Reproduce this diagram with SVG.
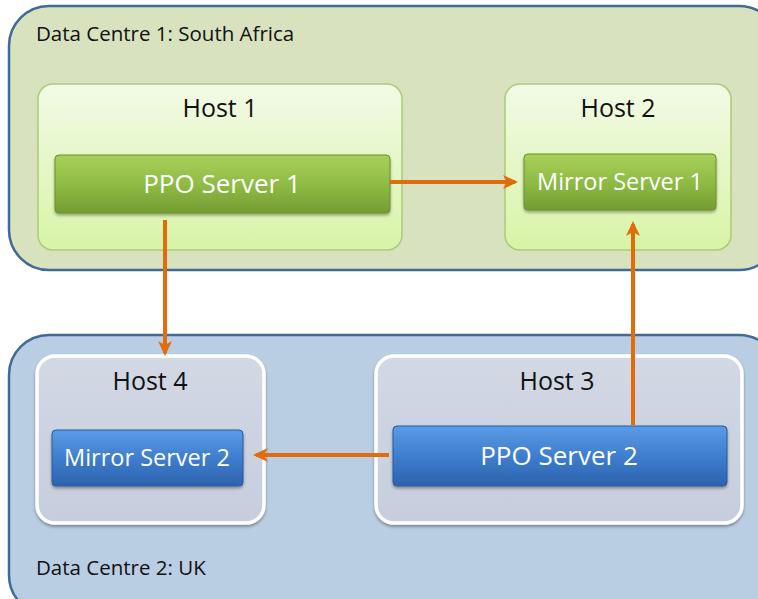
<svg xmlns="http://www.w3.org/2000/svg" width="758" height="599" viewBox="0 0 758 599">
<defs>
<linearGradient id="hostG" x1="0" y1="0" x2="0" y2="1"><stop offset="0" stop-color="#F2FAE6"/><stop offset="1" stop-color="#D8F4A6"/></linearGradient>
<linearGradient id="srvG" x1="0" y1="0" x2="0" y2="1"><stop offset="0" stop-color="#A8D05A"/><stop offset="0.5" stop-color="#8FBC45"/><stop offset="1" stop-color="#749C32"/></linearGradient>
<linearGradient id="srvB" x1="0" y1="0" x2="0" y2="1"><stop offset="0" stop-color="#5B9BE6"/><stop offset="0.5" stop-color="#3E7ECE"/><stop offset="1" stop-color="#2D62AC"/></linearGradient>
<linearGradient id="hostB" x1="0" y1="0" x2="0" y2="1"><stop offset="0" stop-color="#D2D8E4"/><stop offset="1" stop-color="#C6CDDC"/></linearGradient>
<filter id="sh" x="-5%" y="-10%" width="110%" height="130%"><feDropShadow dx="0" dy="2" stdDeviation="1.5" flood-color="#000" flood-opacity="0.35"/></filter>
<marker id="ah" markerWidth="16" markerHeight="16" refX="12" refY="8" orient="auto" markerUnits="userSpaceOnUse" viewBox="0 0 16 16"><path d="M0,1 L15,8 L0,15 L4,8 Z" fill="#E36C0A"/></marker>
</defs>
<style>
.dc1{fill:#D8E2BE;stroke:#3F6A9A;stroke-width:2.5}
.dc2{fill:#B9CDE3;stroke:#3F6A9A;stroke-width:2.5}
.h1{fill:url(#hostG);stroke:#A9CC79;stroke-width:1.5}
.h2{fill:url(#hostB);stroke:#FFFFFF;stroke-width:3.5;filter:url(#sh)}
.sg{fill:url(#srvG);stroke:#6A8F2C;stroke-width:1;filter:url(#sh)}
.sb{fill:url(#srvB);stroke:#2A5A9E;stroke-width:1;filter:url(#sh)}
text{font-family:"Open Sans","Liberation Sans",sans-serif}
.lbl{font-size:20.5px;fill:#111}
.ht{font-size:25px;fill:#111;text-anchor:middle}
.st{font-size:26px;fill:#fff;text-anchor:middle}
.conn{stroke:#E36C0A;stroke-width:4;fill:none;marker-end:url(#ah)}
</style>
<g id="dc1"><rect class="dc1" x="9" y="6" width="770" height="264" rx="40"/><text class="lbl" x="36" y="41">Data Centre 1: South Africa</text></g>
<g id="dc2"><rect class="dc2" x="9" y="335" width="770" height="280" rx="40"/><text class="lbl" x="36" y="575">Data Centre 2: UK</text></g>
<g id="host1"><rect class="h1" x="38" y="84" width="364" height="166" rx="15"/><text class="ht" x="220" y="117">Host 1</text></g>
<g id="host2"><rect class="h1" x="505" y="84" width="226" height="166" rx="15"/><text class="ht" x="618" y="117">Host 2</text></g>
<g id="host4"><rect class="h2" x="37" y="356" width="227" height="167" rx="18"/><text class="ht" x="150" y="390">Host 4</text></g>
<g id="host3"><rect class="h2" x="376" y="356" width="366" height="167" rx="18"/><text class="ht" x="557" y="390">Host 3</text></g>
<g id="ppo1"><rect class="sg" x="55" y="155" width="335" height="58" rx="4"/><text class="st" x="222" y="193">PPO Server 1</text></g>
<g id="mirror1"><rect class="sg" x="524" y="154" width="192" height="56" rx="4"/><text class="st" x="620" y="190" style="font-size:23.5px">Mirror Server 1</text></g>
<g id="mirror2"><rect class="sb" x="52" y="430" width="191" height="56" rx="4"/><text class="st" x="147" y="466" style="font-size:23.5px">Mirror Server 2</text></g>
<g id="ppo2"><rect class="sb" x="393" y="426" width="334" height="60" rx="4"/><text class="st" x="559" y="465">PPO Server 2</text></g>
<g id="connectors">
<line class="conn" x1="390" y1="182" x2="515" y2="182"/>
<line class="conn" x1="165" y1="220" x2="165" y2="353"/>
<line class="conn" x1="633" y1="425" x2="633" y2="224"/>
<line class="conn" x1="389" y1="455" x2="256" y2="455"/>
</g>
</svg>
